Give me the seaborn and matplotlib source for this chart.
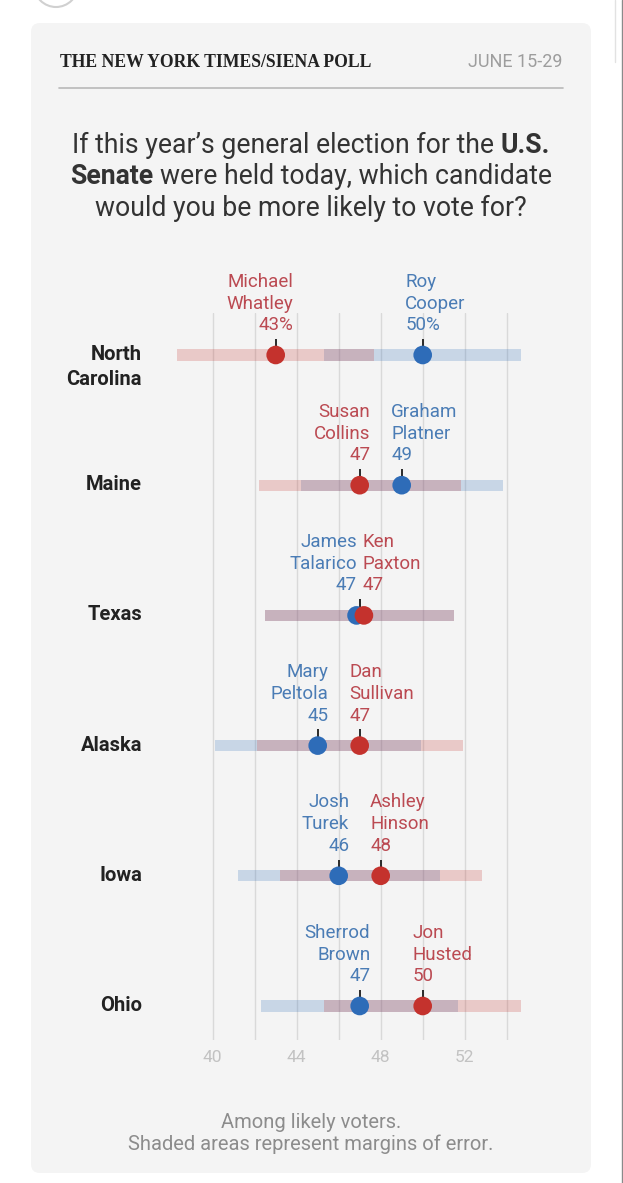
import numpy as np
import pandas as pd
import matplotlib
matplotlib.use("Agg")
import matplotlib.pyplot as plt
import seaborn as sns
from matplotlib.patches import FancyBboxPatch, Circle
from matplotlib.transforms import blended_transform_factory

# poll data
states = ["North\nCarolina", "Maine", "Texas", "Alaska", "Iowa", "Ohio"]
dem_names = ["Roy\nCooper", "Graham\nPlatner", "James\nTalarico", "Mary\nPeltola", "Josh\nTurek", "Sherrod\nBrown"]
dem_pct = [50, 49, 46.85, 45, 46, 47]
dem_labels = ["50%", "49", "47", "45", "46", "47"]
rep_names = ["Michael\nWhatley", "Susan\nCollins", "Ken\nPaxton", "Dan\nSullivan", "Ashley\nHinson", "Jon\nHusted"]
rep_pct = [43, 47, 47.2, 47, 48, 50]
rep_labels = ["43%", "47", "47", "47", "48", "50"]
moe = [4.7, 4.8, 4.5, 4.9, 4.8, 4.7]
tick_pos = [40, 42, 44, 46, 48, 50, 52, 54]
tick_labels = ["40", "", "44", "", "48", "", "52", ""]

W, H = 623, 1183
BLUE, RED = "#2e6cb8", "#c4322d"
BLUE_TXT, RED_TXT = "#4a7cb5", "#bb4a52"
DARK = "#2a2a2a"

sns.set_theme(style="white")
plt.rcParams["font.family"] = ["Roboto", "DejaVu Sans"]

fig = plt.figure(figsize=(W / 100, H / 100), dpi=100)
fig.patch.set_facecolor("white")

# background layer in pixel units
bg = fig.add_axes([0, 0, 1, 1], zorder=0)
bg.set_xlim(0, W)
bg.set_ylim(H, 0)
bg.axis("off")
bg.add_patch(FancyBboxPatch((31, 23), 560, 1150, boxstyle="round,pad=0,rounding_size=9",
                            fc="#f4f4f4", ec="none"))
bg.add_patch(Circle((56, -15), 22, fc="none", ec="#d0d0d0", lw=1.5))
bg.plot([621.5, 621.5], [0, H], color="#8a8a8a", lw=1)
bg.plot([615, 615], [0, 62], color="#e2e2e2", lw=1)

# header
bg.text(60, 67, "THE NEW YORK TIMES/SIENA POLL", family=["Liberation Serif", "DejaVu Serif"],
        fontweight="bold", fontsize=12.7, color="#222222", va="baseline")
bg.text(562, 67, "JUNE 15-29", ha="right", va="baseline", fontsize=13, color="#9d9d9d")
bg.plot([59, 563], [88, 88], color="#b8b8b8", lw=1.2)

# title with bold runs
renderer = fig.canvas.get_renderer()
TSIZE = 19.2


def text_width(s, weight="normal"):
    t = bg.text(0, 0, s, fontsize=TSIZE, fontweight=weight)
    w = t.get_window_extent(renderer).width
    t.remove()
    return w


space_w = text_width("a a") - text_width("aa")


def centered_runs(y, runs):
    arts = [bg.text(0, y, s, fontsize=TSIZE, fontweight=w, color="#333333", va="baseline")
            for s, w in runs]
    widths = [a.get_window_extent(renderer).width for a in arts]
    x = 311 - (sum(widths) + space_w * (len(runs) - 1)) / 2
    for a, w in zip(arts, widths):
        a.set_x(x)
        x += w + space_w


centered_runs(153, [("If this year\u2019s general election for the", "normal"), ("U.S.", "bold")])
centered_runs(184, [("Senate", "bold"), ("were held today, which candidate", "normal")])
centered_runs(216, [("would you be more likely to vote for?", "normal")])

# footer
bg.text(311, 1128, "Among likely voters.", ha="center", va="baseline", fontsize=14.5, color="#8c8c8c")
bg.text(311, 1150, "Shaded areas represent margins of error.", ha="center", va="baseline",
        fontsize=14.5, color="#8c8c8c")

# chart axes
ROW0, PITCH = 355, 130.2
top_px, bot_px = 313, 1040
ax = fig.add_axes([128.7 / W, 1 - bot_px / H, 420 / W, (bot_px - top_px) / H], zorder=1)
ax.patch.set_alpha(0)

rows = np.arange(len(states))
dem_tick = [round(v) for v in dem_pct]
rep_tick = [round(v) for v in rep_pct]

# margin of error bands, centred on the reported (rounded) share
for i in rows:
    ax.barh(i, 2 * moe[i], left=dem_tick[i] - moe[i], height=0.085, color=BLUE, alpha=0.22, lw=0, zorder=2)
    ax.barh(i, 2 * moe[i], left=rep_tick[i] - moe[i], height=0.085, color=RED, alpha=0.22, lw=0, zorder=2)

ax.vlines(dem_tick + rep_tick, np.concatenate([rows, rows]) - 0.125, np.concatenate([rows, rows]),
          color=DARK, lw=1.4, zorder=3)

df = pd.DataFrame({
    "pct": dem_pct + rep_pct,
    "row": list(rows) + list(rows),
    "party": ["D"] * len(rows) + ["R"] * len(rows),
})
sns.scatterplot(data=df, x="pct", y="row", hue="party", palette={"D": BLUE, "R": RED},
                s=180, linewidth=0, legend=False, ax=ax, zorder=4)

# candidate labels
for i in rows:
    cands = [(dem_pct[i], dem_tick[i], dem_labels[i], dem_names[i], BLUE_TXT),
             (rep_pct[i], rep_tick[i], rep_labels[i], rep_names[i], RED_TXT)]
    cands.sort(key=lambda c: c[0])
    same = cands[0][1] == cands[1][1]
    for k, (v, tk, lab, name, col) in enumerate(cands):
        if same:
            ha, dx = ("right", -2) if k == 0 else ("left", 2)
        else:
            ha, dx = "center", 0
        num = ax.annotate(lab, xy=(tk, i), xytext=(dx, 18), textcoords="offset points",
                          ha=ha, va="baseline", fontsize=13.5, color=col)
        side = "right" if k == 0 else "left"
        ax.annotate(name, xy=(1 if k == 0 else 0, 1), xycoords=num, xytext=(0, 2.5),
                    textcoords="offset points", ha=side, va="bottom", multialignment=side,
                    fontsize=13.5, color=col, linespacing=1.28)

# state labels
trans = blended_transform_factory(bg.transData, ax.transData)
for i, st in enumerate(states):
    ax.annotate(st, xy=(142, i), xycoords=trans, xytext=(0, 7.2), textcoords="offset points",
                ha="right", va="top", multialignment="right", fontsize=14.5,
                fontweight="bold", color="#222222", linespacing=1.42)

ax.set_xlim(36, 56)
ax.set_ylim((bot_px - ROW0) / PITCH, (top_px - ROW0) / PITCH)
ax.set_xticks(tick_pos)
ax.set_xticklabels(tick_labels)
ax.set_yticks([])
ax.set_xlabel("")
ax.set_ylabel("")
ax.grid(axis="x", color="#d9d9d9", lw=1)
ax.tick_params(axis="x", length=0, pad=7, labelcolor="#c2c2c2", labelsize=12.5)
for s in ax.spines.values():
    s.set_visible(False)

fig.savefig("out.png", dpi=100, facecolor="white")
